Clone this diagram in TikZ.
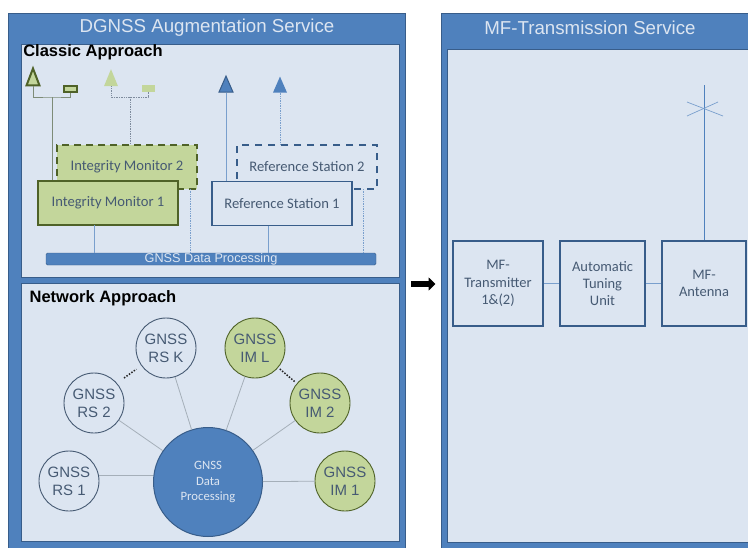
\documentclass[tikz,border=0pt]{standalone}
\usepackage{fontspec}
\setmainfont{Liberation Sans}
\newfontfamily\boxfont{Carlito}
\usetikzlibrary{arrows.meta,shapes.geometric}
\definecolor{panelblue}{RGB}{79,129,189}
\definecolor{panelline}{RGB}{56,93,138}
\definecolor{paleblue}{RGB}{220,229,241}
\definecolor{mygreen}{RGB}{195,214,155}
\definecolor{darkgreen}{RGB}{79,98,40}
\definecolor{boxtext}{RGB}{70,90,115}
\definecolor{linkgray}{RGB}{165,175,185}

\begin{document}
\begin{tikzpicture}[
    x=1pt,y=-1pt,
    panel/.style={draw=panelline,line width=1pt,fill=paleblue},
    title/.style={text=paleblue,font=\fontsize{18.7}{21}\selectfont},
    heading/.style={font=\bfseries\fontsize{16.5}{18}\selectfont},
    monbox/.style={rectangle,draw=darkgreen,fill=mygreen,line width=1.7pt,minimum width=140pt,minimum height=44pt,inner sep=0pt,text=boxtext,font=\boxfont\fontsize{14.6}{16}\selectfont},
    refbox/.style={monbox,draw=panelline,fill=paleblue},
    mfbox/.style={rectangle,draw=panelline,fill=paleblue,line width=1.7pt,minimum height=85pt,inner sep=0pt,align=center,text=boxtext,font=\boxfont\fontsize{14.5}{17.2}\selectfont},
    station/.style={circle,draw=boxtext,fill=paleblue,line width=0.9pt,minimum size=60pt,inner sep=0pt,align=center,text=boxtext,font=\fontsize{15}{18}\selectfont},
    imcircle/.style={station,fill=mygreen,draw=darkgreen},
    ant/.style={isosceles triangle,isosceles triangle stretches,shape border rotate=90,inner sep=0pt,minimum width=17pt,minimum height=12pt},
    rx/.style={rectangle,inner sep=0pt,minimum width=14pt,minimum height=7pt},
    link/.style={draw=panelblue!70!paleblue,line width=0.7pt},
    dotlink/.style={link,densely dotted,line width=0.8pt},
    graylink/.style={draw=linkgray,line width=0.8pt},
    gap/.style={draw=black!85,line width=1.5pt,dash pattern=on 1.5pt off 1.5pt}
]
    \useasboundingbox (0,0) rectangle (748,547);
    \fill[white] (0,0) rectangle (748,547);

    % Outer panels
    \draw[fill=panelblue,draw=panelline,line width=1pt] (8.5,13.5) rectangle (405,549);
    \draw[fill=panelblue,draw=panelline,line width=1pt] (441.5,13.5) rectangle (750,549);
    \draw[panel] (21,44) rectangle (399,277);
    \draw[panel] (21,283) rectangle (399,541);
    \draw[panel] (447,49) rectangle (750,542);
    \node[title] (dgnss) at (207,28) {DGNSS Augmentation Service};
    \node[title] (mftitle) at (590,28) {MF-Transmission Service};
    \node[heading] (classic) at (93,52) {Classic Approach};
    \node[heading] (network) at (103,298) {Network Approach};

    % Classic approach: antennas
    \node[ant,draw=darkgreen,fill=mygreen,line width=2pt,minimum width=13pt,minimum height=17pt] (antA) at (33,81) {};
    \node[rx,draw=darkgreen,fill=mygreen,line width=2pt,minimum width=13pt,minimum height=6pt] (rxA) at (70,88.5) {};
    \node[ant,fill=mygreen,minimum width=14pt,minimum height=17pt] (antB) at (111,81.5) {};
    \node[rx,fill=mygreen,minimum width=13pt,minimum height=7pt] (rxB) at (148,88) {};
    \node[ant,draw=panelline,fill=panelblue,line width=1pt,minimum width=14pt,minimum height=16pt] (antC) at (226,87.5) {};
    \node[ant,fill=panelblue,minimum width=14pt,minimum height=16pt] (antD) at (280,88) {};

    % Classic approach: boxes
    \node[monbox,dash pattern=on 7pt off 5pt] (mon2) at (127,167) {Integrity Monitor 2};
    \node[monbox] (mon1) at (108,203) {Integrity Monitor 1};
    \node[refbox,dash pattern=on 7pt off 6pt] (ref2) at (307,167) {Reference Station 2};
    \node[refbox] (ref1) at (282,203.5) {Reference Station 1};
    \node[rectangle,rounded corners=1.5pt,draw=panelline,fill=panelblue,minimum width=330pt,minimum height=12pt,inner sep=0pt,text=paleblue,font=\fontsize{12.7}{14}\selectfont] (proc) at (211,259) {GNSS Data Processing};

    % Classic approach: connectors
    \coordinate (forkA) at (52,97);
    \coordinate (forkB) at (130,97);
    \draw[graylink,draw=darkgreen!45!linkgray] (antA.south) |- (forkA) -| (rxA.south);
    \draw[graylink,draw=darkgreen!45!linkgray] (forkA) -- (forkA |- mon1.north);
    \draw[dotlink,draw=boxtext!70] (antB.south) |- (forkB) -| (rxB.south);
    \draw[dotlink,draw=boxtext!70] (forkB) -- (forkB |- mon2.north);
    \draw[link] (antC.south) -- (antC.south |- ref1.north);
    \draw[dotlink] (antD.south) -- (antD.south |- ref2.north);
    \draw[link] (94,225) -- (94,253);
    \draw[dotlink] (190,189) -- (190,253);
    \draw[link] (268,225.5) -- (268,253);
    \draw[dotlink] (363,189) -- (363,253);

    % Network approach
    \node[circle,draw=panelline,fill=panelblue,line width=1pt,minimum size=109pt,inner sep=0pt,align=center,text=paleblue,font=\boxfont\fontsize{12.7}{15.5}\selectfont] (hub) at (208,482) {GNSS\\Data\\Processing};
    \node[station] (rsK) at (166,348) {GNSS\\RS K};
    \node[station] (rsB) at (94,403) {GNSS\\RS 2};
    \node[station] (rsA) at (69,481) {GNSS\\RS 1};
    \node[imcircle] (imL) at (255,348) {GNSS\\IM L};
    \node[imcircle] (imB) at (320,403) {GNSS\\IM 2};
    \node[imcircle] (imA) at (345,481) {GNSS\\IM 1};
    \draw[graylink] (hub) -- (rsK);
    \draw[graylink] (hub) -- (rsB);
    \draw[graylink] (hub.west |- rsA.east) ++(0,-6) -- ++(-54,0);
    \draw[graylink] (hub) -- (imL);
    \draw[graylink] (hub) -- (imB);
    \draw[graylink] (hub) -- (imA);
    \draw[gap,shorten >=6pt] (rsB) ++(30,-25) -- (rsK);
    \draw[gap,shorten <=2pt,shorten >=2pt] (imL) -- (imB);

    % MF transmission
    \node[mfbox,minimum width=90pt] (trans) at (498,283.5) {MF-\\Transmitter\\1\&(2)};
    \node[mfbox,minimum width=85pt] (tuner) at (602.5,283.5) {Automatic\\Tuning\\Unit};
    \node[mfbox,minimum width=84pt] (mfant) at (704,283.5) {MF-\\Antenna};
    \draw[link] (trans) -- (tuner);
    \draw[link] (tuner) -- (mfant);
    \coordinate (mast) at (704,85);
    \draw[link,draw=panelblue] (mfant) -- (mast);
    \coordinate (crossA) at (687,102);
    \coordinate (crossB) at (723,116);
    \coordinate (crossC) at (687,116);
    \coordinate (crossD) at (718,102);
    \draw[link] (crossA) -- (crossB);
    \draw[link] (crossC) -- (crossD);

    % Arrow between the services
    \coordinate (arrowL) at (411,284);
    \coordinate (arrowR) at (435.5,284);
    \draw[-{Triangle[length=7pt,width=13pt]},line width=5.5pt,black] (arrowL) -- (arrowR);
\end{tikzpicture}
\end{document}
